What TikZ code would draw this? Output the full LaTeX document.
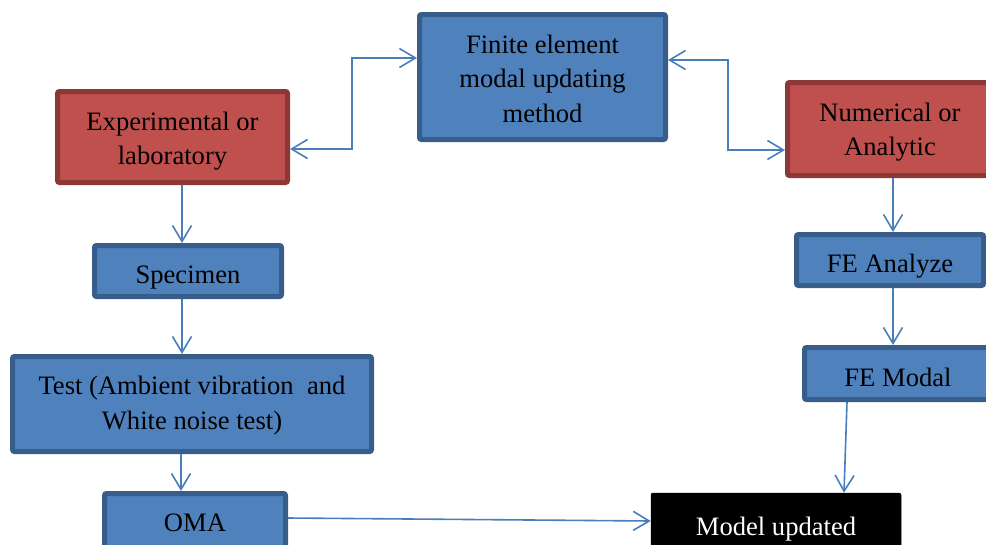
\documentclass[tikz,border=0pt]{standalone}
\usepackage{fontspec}
\setmainfont{Liberation Serif}
\usetikzlibrary{arrows.meta}
\definecolor{bfill}{HTML}{4F81BD}
\definecolor{bline}{HTML}{385D8A}
\definecolor{rfill}{HTML}{C0504D}
\definecolor{rline}{HTML}{8C3836}
\definecolor{acol}{HTML}{4A7EBB}
\newcommand\mystrut[1]{\rule{0pt}{#1pt}}
\begin{document}
\begin{tikzpicture}[x=1pt,y=-1pt,
  box/.style={rectangle, rounded corners=2pt, line width=5pt, align=center, inner sep=0pt,
    font=\fontsize{26.6}{34.5}\selectfont},
  bluebox/.style={box, fill=bfill, draw=bline},
  redbox/.style={box, fill=rfill, draw=rline},
  blackbox/.style={box, fill=black, draw=black, line width=0.5pt, text=white},
  arr/.style={draw=acol, line width=1.6pt, -{Straight Barb[length=16pt,width=19pt,line width=1.6pt]}},
  biarr/.style={draw=acol, line width=1.6pt, {Straight Barb[length=16pt,width=19pt,line width=1.6pt]}-{Straight Barb[length=16pt,width=19pt,line width=1.6pt]}}
]
\useasboundingbox (0,0) rectangle (986,544);
\node[bluebox, minimum width=246pt, minimum height=125pt] (fe) at (542.5,77) {\mystrut{22}Finite element\\modal updating\\method};
\node[redbox, minimum width=230pt, minimum height=91pt] (exp) at (172.5,137) {\mystrut{27}Experimental or\\laboratory};
\node[redbox, minimum width=205pt, minimum height=93pt] (num) at (890,129) {\mystrut{25}Numerical or\\Analytic};
\node[bluebox, minimum width=187pt, minimum height=51pt] (spec) at (188,271) {\mystrut{30}Specimen};
\node[bluebox, minimum width=359pt, minimum height=95pt] (test) at (192,404) {\mystrut{22}Test (Ambient vibration\ \ and\\White noise test)};
\node[bluebox, minimum width=181pt, minimum height=57pt] (oma) at (195,522) {\mystrut{20}OMA};
\node[bluebox, minimum width=187pt, minimum height=51pt] (fea) at (890,260) {\mystrut{30}FE Analyze};
\node[bluebox, minimum width=187pt, minimum height=52pt] (fem) at (898,373.5) {\mystrut{26}FE Modal};
\node[blackbox, minimum width=250pt, minimum height=66pt] (mod) at (776,526) {\mystrut{24}Model updated};

\draw[biarr] ([yshift=-12pt]exp.east) -- ++(62,0) |- ([yshift=19pt]fe.west);
\draw[biarr] ([yshift=17pt]fe.east) -- ++(60,0) |- ([yshift=-21pt]num.west);
\draw[arr] ([xshift=9.5pt]exp.south) -- ([xshift=-6pt]spec.north);
\draw[arr] ([xshift=-6pt]spec.south) -- ([xshift=-10pt]test.north);
\draw[arr] ([xshift=-11pt]test.south) -- ([xshift=-14pt]oma.north);
\draw[arr] ([xshift=3pt]num.south) -- ([xshift=3pt]fea.north);
\draw[arr] ([xshift=3pt]fea.south) -- ([xshift=-5pt]fem.north);
\draw[arr] ([xshift=-51pt]fem.south) -- ([xshift=68pt]mod.north);
\draw[arr] ([yshift=4pt]oma.east) -- ([yshift=5pt]mod.west);
\end{tikzpicture}
\end{document}
